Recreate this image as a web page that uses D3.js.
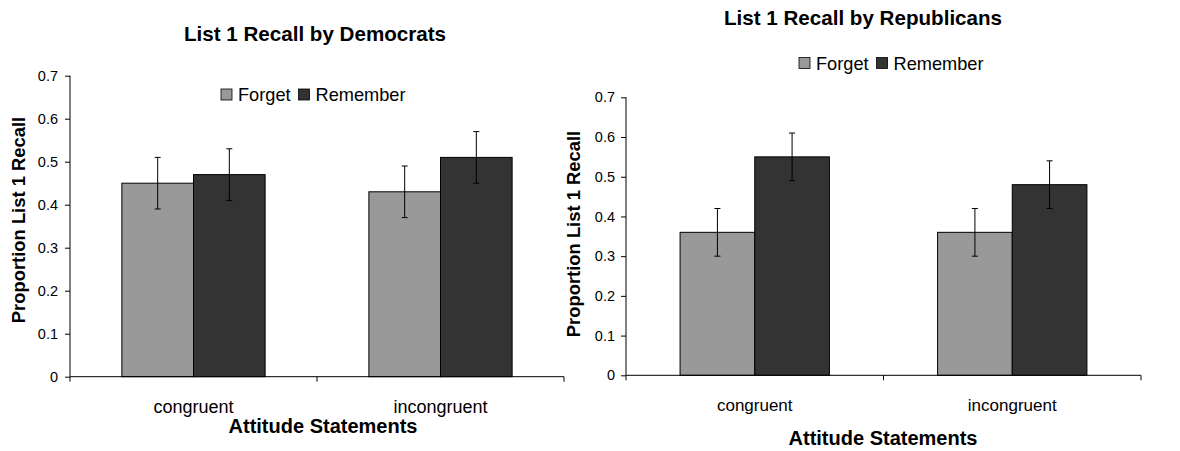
<!DOCTYPE html>
<html>
<head>
<meta charset="utf-8">
<script src="https://cdn.jsdelivr.net/npm/d3@7"></script>
<style>
  body { margin: 0; background: #fff; }
  svg { font-family: "Liberation Sans", Arial, sans-serif; }
  .title { font-weight: bold; font-size: 20.6px; }
  .axis-title { font-weight: bold; font-size: 20px; }
  .y-title { font-weight: bold; font-size: 18.4px; }
  .tick text { font-size: 14.5px; fill: #000; }
  .legend text { font-size: 18.2px; }
</style>
</head>
<body>
<div id="chart"></div>
<script>
var categories = ["congruent", "incongruent"]
var series = ["Forget", "Remember"]
var colors = ["#999999", "#333333"]
var yTicks = [0, 0.1, 0.2, 0.3, 0.4, 0.5, 0.6, 0.7]

// Democrats: [forget, remember] per category
var demValues = [[0.45, 0.47], [0.43, 0.51]]
var demErrors = [[0.06, 0.06], [0.06, 0.06]]
// Republicans
var repValues = [[0.36, 0.55], [0.36, 0.48]]
var repErrors = [[0.06, 0.06], [0.06, 0.06]]

var svg = d3.select("#chart").append("svg").attr("width", 1180).attr("height", 451)

function drawPanel(p) {
    var g = svg.append("g")

    var x0 = d3.scaleBand().domain(categories).range([p.left, p.right])
    var bw = x0.bandwidth()
    var x1 = d3.scaleBand().domain(series).range([bw * 0.21, bw * 0.79])
    var y = d3.scaleLinear().domain([0, 0.7]).range([p.bottom, p.top])

    // bars + error bars
    categories.forEach(function(c, ci) {
        var grp = g.append("g").attr("transform", "translate(" + x0(c) + ",0)")
        series.forEach(function(s, si) {
            var v = p.values[ci][si], e = p.errors[ci][si]
            var cx = x1(s) + x1.bandwidth() / 2
            grp.append("rect")
                .attr("x", x1(s)).attr("y", y(v))
                .attr("width", x1.bandwidth()).attr("height", y(0) - y(v))
                .attr("fill", colors[si]).attr("stroke", "#000").attr("stroke-width", 1)
            grp.append("line").attr("x1", cx).attr("x2", cx)
                .attr("y1", y(v - e)).attr("y2", y(v + e))
                .attr("stroke", "#000").attr("stroke-width", 1)
            ;[v - e, v + e].forEach(function(t) {
                grp.append("line").attr("x1", cx - 3).attr("x2", cx + 3)
                    .attr("y1", y(t)).attr("y2", y(t))
                    .attr("stroke", "#000").attr("stroke-width", 1)
            })
        })
    })

    // y axis
    var yAxis = g.append("g").attr("transform", "translate(" + p.left + ",0)")
        .call(d3.axisLeft(y).tickValues(yTicks).tickSize(5).tickPadding(p.tickPad)
            .tickFormat(function(d) { return d === 0 ? "0" : d3.format(".1f")(d) }))
    yAxis.select(".domain").attr("d", "M0," + p.bottom + "V" + p.top)
    yAxis.selectAll("path, line").attr("stroke", "#000")

    // x axis: ticks at category boundaries
    var xAxis = g.append("g").attr("transform", "translate(0," + p.bottom + ")")
    xAxis.append("line").attr("x1", p.left).attr("x2", p.right).attr("stroke", "#000")
    var bounds = categories.map(function(c) { return x0(c) }).concat([p.right])
    xAxis.selectAll(".xt").data(bounds).enter().append("line")
        .attr("x1", function(d) { return d }).attr("x2", function(d) { return d })
        .attr("y1", 0).attr("y2", 5).attr("stroke", "#000")
    xAxis.selectAll(".xl").data(categories).enter().append("text")
        .attr("x", function(d) { return x0(d) + bw / 2 })
        .attr("y", p.catLabelY - p.bottom)
        .attr("text-anchor", "middle").attr("font-size", p.catSize)
        .text(function(d) { return d })

    // titles
    g.append("text").attr("class", "title").attr("x", p.titleX).attr("y", p.titleY)
        .attr("text-anchor", "middle").text(p.title)
    g.append("text").attr("class", "axis-title").attr("x", p.xTitleX).attr("y", p.xTitleY)
        .attr("text-anchor", "middle").text("Attitude Statements")
    g.append("text").attr("class", "y-title")
        .attr("transform", "translate(" + p.yTitleX + "," + p.yTitleY + ") rotate(-90)")
        .attr("text-anchor", "middle").text("Proportion List 1 Recall")

    // legend
    var lg = g.append("g").attr("class", "legend").attr("transform", "translate(" + p.legendX + "," + p.legendY + ")")
    var off = 0
    series.forEach(function(s, si) {
        lg.append("rect").attr("x", off).attr("y", -5.5).attr("width", 11).attr("height", 11)
            .attr("fill", colors[si]).attr("stroke", "#000").attr("stroke-width", 0.8)
        var t = lg.append("text").attr("x", off + 17).attr("y", 6.5).text(s)
        off += 17 + t.node().getComputedTextLength() + 8
    })
}

drawPanel({
    left: 70, right: 564, top: 75.7, bottom: 376.7,
    values: demValues, errors: demErrors, tickPad: 7,
    title: "List 1 Recall by Democrats", titleX: 315, titleY: 41,
    xTitleX: 323, xTitleY: 433, catLabelY: 413, catSize: 18,
    yTitleX: 25, yTitleY: 220,
    legendX: 221, legendY: 94.5
})
drawPanel({
    left: 626, right: 1141, top: 97.3, bottom: 375.3,
    values: repValues, errors: repErrors, tickPad: 6,
    title: "List 1 Recall by Republicans", titleX: 863, titleY: 25,
    xTitleX: 883, xTitleY: 445, catLabelY: 411, catSize: 17,
    yTitleX: 580, yTitleY: 234,
    legendX: 799, legendY: 63
})
</script>
</body>
</html>
